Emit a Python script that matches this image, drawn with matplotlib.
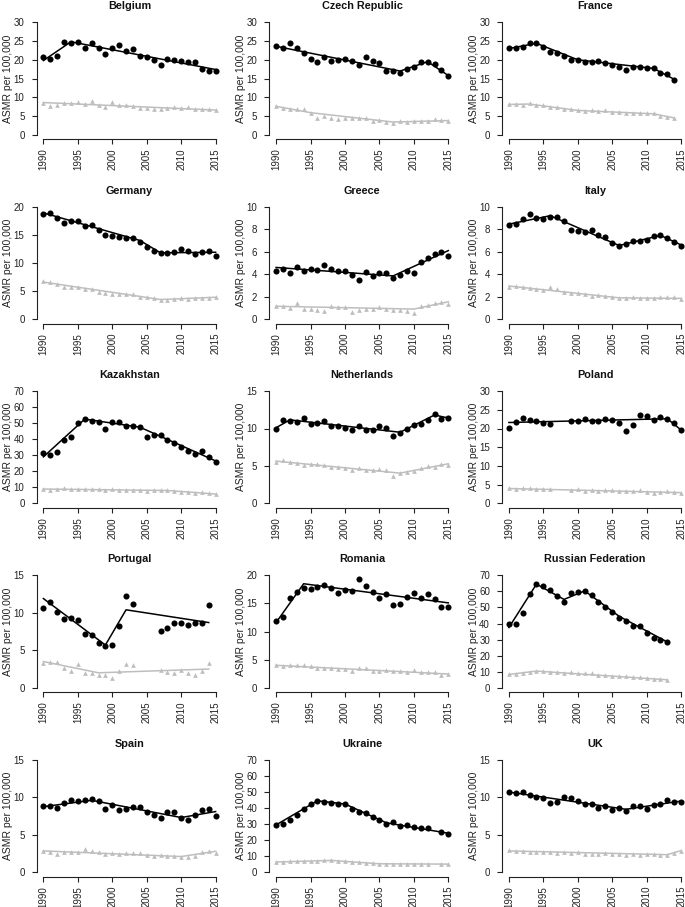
import numpy as np
import matplotlib
matplotlib.use("Agg")
import matplotlib.pyplot as plt

plt.rcParams['font.family'] = ['Liberation Sans', 'DejaVu Sans']

years = list(range(1990, 2016))
N = None

countries = ["Belgium", "Czech Republic", "France", "Germany", "Greece", "Italy",
             "Kazakhstan", "Netherlands", "Poland", "Portugal", "Romania",
             "Russian Federation", "Spain", "Ukraine", "UK"]
y_max = [30, 30, 30, 20, 10, 10, 70, 15, 30, 15, 20, 70, 15, 70, 15]
y_step = [5, 5, 5, 5, 2, 2, 10, 5, 5, 5, 5, 10, 5, 10, 5]

# Observed ASMR, men (1990..2015)
belgium_men = [20.7, 20.1, 20.9, 24.8, 24.6, 24.7, 23.2, 24.5, 23.2, 21.5, 23.2, 24.0, 22.3,
               22.9, 21.1, 20.7, 20.0, 18.5, 20.2, 19.9, 19.7, 19.5, 19.5, 17.6, 17.0, 17.0]
czech_men = [23.8, 23.2, 24.5, 23.2, 21.7, 20.3, 19.3, 20.7, 19.8, 19.9, 20.1, 19.8, 18.5,
             20.8, 19.6, 19.2, 17.1, 16.9, 16.4, 17.6, 18.0, 19.4, 19.5, 19.0, 17.2, 15.7]
france_men = [23.1, 23.1, 23.5, 24.6, 24.4, 23.3, 22.1, 21.7, 20.9, 20.0, 20.0, 19.3, 19.3,
              19.6, 19.2, 18.6, 18.2, 17.3, 18.0, 18.2, 17.7, 17.7, 16.6, 16.2, 14.7, N]
germany_men = [18.7, 18.9, 18.0, 17.1, 17.5, 17.5, 16.5, 16.7, 15.9, 14.9, 14.8, 14.7, 14.4,
               14.4, 13.8, 12.8, 12.2, 11.8, 11.8, 11.9, 12.4, 12.2, 11.6, 12.0, 12.1, 11.3]
greece_men = [4.3, 4.5, 4.15, 4.65, 4.3, 4.5, 4.35, 4.8, 4.45, 4.25, 4.3, 3.95, 3.5,
              4.2, 3.8, 4.1, 4.1, 3.65, 3.9, 4.25, 4.15, 5.1, 5.4, 5.8, 5.95, 5.6]
italy_men = [8.35, 8.5, 8.9, 9.35, 9.0, 8.95, 9.1, 9.1, 8.75, 7.9, 7.85, 7.75, 7.95,
             7.45, 7.3, 6.75, 6.55, 6.65, 6.95, 6.95, 7.05, 7.4, 7.5, 7.25, 6.9, 6.55]
kazakhstan_men = [31.3, 30.1, 32.2, 39.7, 41.4, 50.4, 52.7, 51.6, 50.6, 46.2, 50.8, 51.0, 48.3,
                  48.1, 47.8, 41.6, 42.6, 42.6, 39.5, 37.4, 35.1, 32.4, 30.7, 32.6, 28.8, 26.1]
netherlands_men = [9.9, 11.1, 11.0, 10.85, 11.35, 10.55, 10.75, 11.0, 10.3, 10.35, 10.1, 9.85, 10.4,
                   9.8, 9.8, 10.35, 10.1, 9.05, 9.4, 10.0, 10.5, 10.65, 11.1, 11.9, 11.3, 11.35]
poland_men = [20.15, 21.75, 22.9, 22.3, 22.0, 21.5, 21.2, N, N, 22.0, 22.0, 22.5, 22.0,
              21.9, 22.55, 22.4, 21.4, 19.4, 21.0, 23.5, 23.35, 22.4, 23.1, 22.55, 21.6, 19.6]
portugal_men = [10.65, 11.4, 10.1, 9.2, 9.3, 9.05, 7.15, 7.1, 6.0, 5.55, 5.75, 8.2, 12.3,
                11.2, N, N, N, 7.55, 8.0, 8.7, 8.7, 8.4, 8.65, 8.7, 11.1, N]
romania_men = [11.8, 12.5, 16.0, 17.0, 17.7, 17.6, 17.9, 18.2, 17.8, 16.9, 17.45, 17.15, 19.35,
               18.05, 17.1, 16.0, 16.6, 14.7, 14.9, 16.15, 16.85, 15.95, 16.7, 15.7, 14.35, 14.35]
russia_men = [39.4, 39.6, 46.5, 58.1, 64.8, 63.5, 60.6, 57.0, 53.5, 58.7, 59.5, 60.2, 57.7,
              53.2, 50.1, 47.2, 43.6, 41.5, 38.6, 38.2, 34.0, 31.2, 29.6, 28.7, N, N]
spain_men = [8.8, 8.8, 8.55, 9.3, 9.7, 9.5, 9.6, 9.75, 9.5, 8.5, 9.0, 8.35, 8.5,
             8.65, 8.65, 8.0, 7.7, 7.25, 8.1, 8.0, 7.2, 6.95, 7.65, 8.35, 8.4, 7.5]
ukraine_men = [29.7, 30.1, 32.4, 35.5, 39.3, 42.8, 44.5, 43.5, 43.3, 42.4, 42.6, 39.5, 37.8,
               37.0, 34.5, 32.6, 30.3, 31.1, 28.8, 29.5, 28.0, 27.4, 27.6, N, 25.1, 24.0]
uk_men = [10.65, 10.55, 10.65, 10.3, 10.1, 9.95, 9.3, 9.4, 10.0, 9.95, 9.55, 9.15, 9.15,
          8.55, 8.8, 8.3, 8.6, 8.2, 8.85, 8.8, 8.4, 8.95, 9.15, 9.7, 9.4, 9.35]

# Observed ASMR, women (1990..2015)
belgium_women = [8.6, 7.7, 8.0, 8.4, 8.4, 8.7, 8.2, 8.9, 7.9, 7.3, 8.7, 8.0, 7.9,
                 7.8, 7.2, 7.2, 7.0, 6.8, 7.2, 7.3, 7.1, 7.5, 6.8, 6.8, 6.8, 6.6]
czech_women = [7.7, 7.2, 7.0, 6.9, 6.9, 5.8, 4.5, 4.9, 4.45, 4.3, 4.6, 4.4, 4.4,
               4.6, 3.8, 4.0, 3.5, 3.1, 3.6, 3.3, 3.6, 3.6, 3.6, 4.1, 3.9, 3.8]
france_women = [8.1, 8.2, 8.0, 8.5, 7.9, 7.9, 7.5, 7.4, 6.9, 6.9, 6.5, 6.3, 6.5,
                6.4, 6.5, 6.2, 6.1, 5.9, 5.9, 5.8, 5.8, 5.7, 5.0, 4.8, 4.5, N]
germany_women = [6.8, 6.7, 6.3, 5.8, 5.7, 5.7, 5.4, 5.3, 4.8, 4.6, 4.5, 4.4, 4.5,
                 4.4, 4.0, 3.9, 3.8, 3.5, 3.5, 3.6, 3.7, 3.6, 3.7, 3.8, 3.8, 3.9]
greece_women = [1.2, 1.2, 1.0, 1.4, 0.95, 0.9, 0.8, 0.75, 1.2, 1.1, 1.1, 0.63, 0.8,
                0.95, 0.87, 1.07, 0.95, 0.84, 0.84, 0.72, 0.54, 1.13, 1.22, 1.4, 1.5, 1.37]
italy_women = [2.9, 2.95, 2.85, 2.8, 2.65, 2.6, 2.85, 2.65, 2.4, 2.35, 2.35, 2.25, 2.1,
               2.15, 2.05, 2.0, 1.9, 1.85, 1.95, 1.9, 1.85, 1.85, 1.95, 1.95, 2.0, 1.8]
kazakhstan_women = [9.2, 8.3, 8.9, 9.4, 8.8, 9.2, 9.3, 9.1, 9.0, 8.6, 9.3, 8.5, 8.5,
                    8.6, 8.3, 7.9, 8.1, 8.2, 8.6, 8.0, 7.4, 7.0, 6.5, 7.4, 6.3, 5.9]
netherlands_women = [5.6, 5.85, 5.6, 5.35, 5.1, 5.2, 5.2, 5.1, 4.9, 4.9, 4.7, 4.5, 4.7,
                     4.45, 4.45, 4.65, 4.5, 3.7, 4.0, 4.15, 4.35, 4.75, 5.0, 4.9, 5.25, 5.15]
poland_women = [4.0, 3.9, 4.2, 4.2, 3.8, 3.9, 3.8, N, N, 3.6, 3.8, 3.4, 3.7,
                3.4, 3.5, 3.5, 3.3, 3.2, 3.2, 3.5, 3.1, 2.9, 3.1, 3.2, 3.1, 2.9]
portugal_women = [3.25, 3.45, 3.4, 2.7, 2.3, 3.15, 2.0, 1.95, 1.65, 1.65, 1.3, 2.2, 3.2,
                  3.1, N, N, N, 2.4, 2.05, 2.0, 2.4, 2.0, 1.75, 2.2, 3.35, N]
romania_women = [4.0, 3.8, 4.1, 4.1, 4.1, 3.9, 3.5, 3.5, 3.5, 3.4, 3.3, 2.9, 3.55,
                 3.5, 2.95, 3.0, 3.1, 3.0, 2.95, 2.85, 3.1, 2.8, 2.75, 2.75, 2.25, 2.45]
russia_women = [8.6, 8.4, 9.2, 10.1, 10.5, 10.6, 9.8, 9.6, 9.3, 9.9, 9.3, 9.2, 9.1,
                8.2, 8.1, 7.6, 7.2, 7.1, 6.9, 6.5, 5.9, 5.7, 5.6, 5.0, N, N]
spain_women = [2.85, 2.75, 2.45, 2.75, 2.65, 2.65, 3.15, 2.85, 2.65, 2.5, 2.6, 2.4, 2.55,
               2.6, 2.6, 2.35, 2.2, 2.35, 2.2, 2.2, 2.0, 2.0, 2.2, 2.65, 2.85, 2.55]
ukraine_women = [6.6, 6.3, 6.8, 6.8, 7.1, 7.1, 7.3, 7.5, 7.6, 7.1, 7.1, 6.3, 6.1,
                 6.0, 5.5, 5.4, 5.2, 5.2, 5.2, 5.3, 5.2, 5.2, 5.3, N, 5.2, 5.1]
uk_women = [2.95, 2.8, 2.85, 2.75, 2.7, 2.7, 2.7, 2.6, 2.65, 2.6, 2.65, 2.45, 2.5,
            2.4, 2.55, 2.5, 2.4, 2.25, 2.45, 2.35, 2.4, 2.4, 2.3, 2.3, 2.6, 2.85]

# Joinpoint fitted trends (joinpoint years, fitted values)
men_fit_years = [[1990, 1994, 2015], [1990, 2008, 2012, 2015], [1990, 1994, 2000, 2011, 2014],
                 [1990, 2004, 2007, 2015], [1990, 2007, 2015], [1990, 1996, 2006, 2012, 2015],
                 [1990, 1996, 2004, 2015], [1990, 1992, 2008, 2013, 2015], [1990, 2013, 2015],
                 [1990, 1999, 2002, 2014], [1990, 1994, 2015], [1990, 1994, 1998, 2001, 2006, 2013],
                 [1990, 1997, 2010, 2015], [1990, 1996, 2000, 2006, 2015], [1990, 2007, 2015]]
men_fit_vals = [[19.8, 24.8, 17.4], [23.6, 17.0, 19.5, 15.8], [23.0, 24.4, 20.0, 17.7, 14.8],
                [18.9, 14.0, 11.8, 11.9], [4.6, 3.85, 6.1], [8.45, 9.2, 6.55, 7.45, 6.6],
                [29.0, 52.5, 47.5, 26.5], [10.1, 11.15, 9.5, 11.8, 11.4], [21.6, 22.6, 19.6],
                [11.9, 5.7, 10.4, 8.7], [11.6, 18.5, 15.1], [37.5, 64.5, 55.0, 60.3, 44.5, 28.5],
                [8.75, 9.6, 7.3, 8.1], [29.5, 44.5, 42.5, 30.8, 24.3], [10.7, 8.4, 9.5]]
women_fit_years = [[1990, 2015], [1990, 1995, 2007, 2015], [1990, 1993, 2000, 2011, 2014],
                   [1990, 2007, 2015], [1990, 2010, 2015], [1990, 2006, 2015],
                   [1990, 2008, 2015], [1990, 2008, 2015], [1990, 2015],
                   [1990, 1998, 2014], [1990, 2015], [1990, 1994, 2013],
                   [1990, 2010, 2015], [1990, 1998, 2005, 2015], [1990, 2013, 2015]]
women_fit_vals = [[8.6, 6.6], [7.6, 5.9, 3.4, 3.8], [8.1, 8.2, 6.5, 5.6, 4.5],
                  [6.6, 3.5, 3.9], [1.15, 0.9, 1.55], [2.95, 1.9, 1.85],
                  [9.0, 8.1, 5.9], [5.65, 4.05, 5.3], [4.0, 2.9],
                  [3.5, 2.0, 2.5], [4.0, 2.45], [8.3, 10.4, 5.0],
                  [2.85, 2.1, 2.8], [6.4, 7.4, 5.3, 5.1], [2.85, 2.35, 2.9]]

men_obs = [belgium_men, czech_men, france_men, germany_men, greece_men, italy_men,
           kazakhstan_men, netherlands_men, poland_men, portugal_men, romania_men,
           russia_men, spain_men, ukraine_men, uk_men]
women_obs = [belgium_women, czech_women, france_women, germany_women, greece_women, italy_women,
             kazakhstan_women, netherlands_women, poland_women, portugal_women, romania_women,
             russia_women, spain_women, ukraine_women, uk_women]

W, H = 685, 907
fig = plt.figure(figsize=(W / 100, H / 100), dpi=100)

col_left = [36.5, 269.2, 502.0]
ax_w = 186.0
row_top = [17.8, 202.2, 386.5, 570.8, 755.3]
ax_h = 121.5

GREY = "#BEBEBE"

for i, name in enumerate(countries):
    r, c = divmod(i, 3)
    left = col_left[c] / W
    bottom = 1 - (row_top[r] + ax_h) / H
    ax = fig.add_axes([left, bottom, ax_w / W, ax_h / H])
    ym = y_max[i]
    ax.set_xlim(1989, 2016)
    ax.set_ylim(-0.04 * ym, 1.04 * ym)

    yr = np.array(years, dtype=float)
    wv = np.array([np.nan if v is None else v for v in women_obs[i]], dtype=float)
    mv = np.array([np.nan if v is None else v for v in men_obs[i]], dtype=float)

    ax.plot(women_fit_years[i], women_fit_vals[i], color=GREY, lw=1.1, zorder=2)
    ax.plot(yr, wv, ls='none', marker='^', ms=3.4, color=GREY, mec='none', zorder=3)
    ax.plot(men_fit_years[i], men_fit_vals[i], color='black', lw=1.1, zorder=4)
    ax.plot(yr, mv, ls='none', marker='o', ms=4.4, color='black', mec='none', zorder=5)

    yt = list(range(0, ym + 1, y_step[i]))
    ax.set_yticks(yt)
    ax.set_yticklabels([str(t) for t in yt])
    xt = list(range(1990, 2016, 5))
    ax.set_xticks(xt)
    ax.set_xticklabels([str(t) for t in xt], rotation=90)

    for s in ['top', 'right']:
        ax.spines[s].set_visible(False)
    ax.spines['left'].set_bounds(0, ym)
    ax.spines['bottom'].set_bounds(1990, 2015)
    for s in ['left', 'bottom']:
        ax.spines[s].set_linewidth(0.8)
        ax.spines[s].set_color('#222222')
    ax.tick_params(axis='both', direction='out', length=3.6, width=0.8,
                   color='#222222', labelsize=7, labelcolor='#222222')
    ax.tick_params(axis='y', pad=5)
    ax.tick_params(axis='x', pad=3)
    ax.set_ylabel("ASMR per 100,000", fontsize=7.5, color='#222222')
    ax.yaxis.set_label_coords(-0.125, 0.5)
    ax.set_title(name, fontsize=7.8, fontweight='bold', pad=6, color='#111111')

fig.savefig("out.png", dpi=100)
